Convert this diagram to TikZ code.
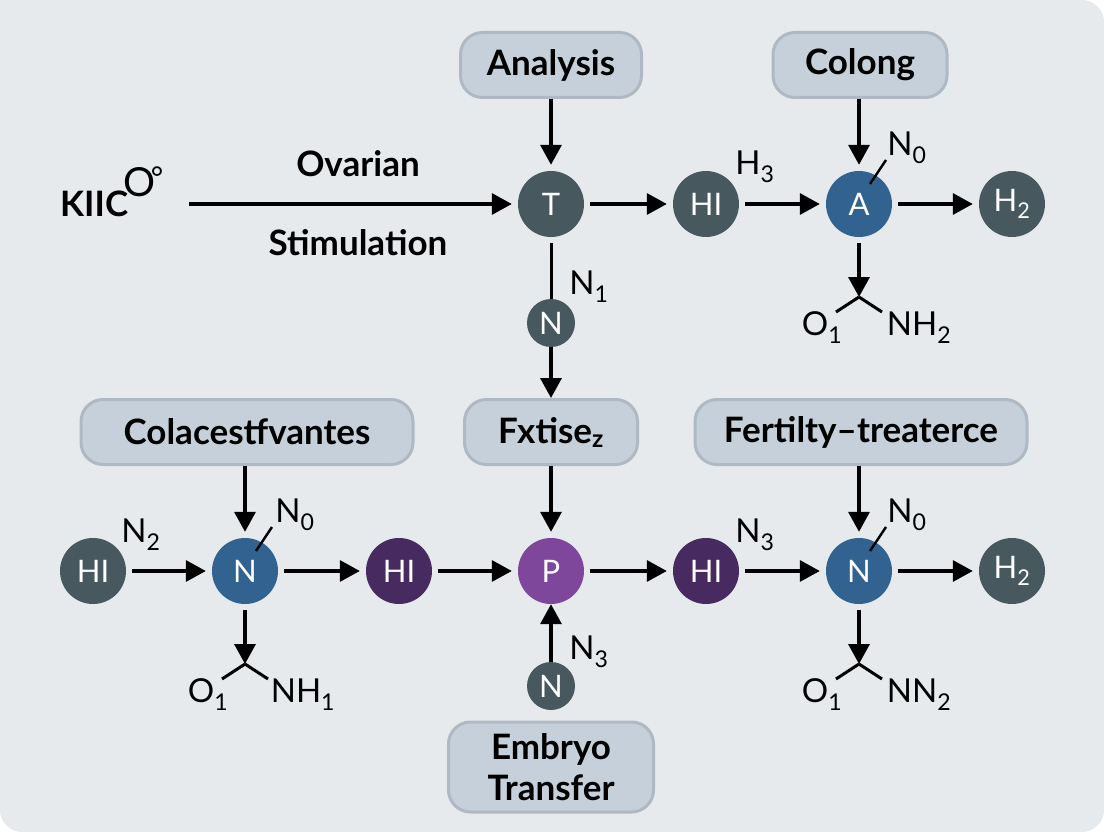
\documentclass[tikz,border=0pt]{standalone}
\usepackage{fontspec}
\setmainfont{Lato}
\usetikzlibrary{arrows.meta}
\definecolor{paper}{HTML}{E6EAED}
\definecolor{boxfill}{HTML}{C6D0DA}
\definecolor{boxline}{HTML}{AEB9C4}
\definecolor{slate}{HTML}{47595F}
\definecolor{steel}{HTML}{326290}
\definecolor{violet}{HTML}{7E479C}
\definecolor{plum}{HTML}{472A5F}
\newcommand{\low}[1]{\textsubscript{#1}}
\tikzset{
  lab/.style={font=\fontsize{33}{36}\selectfont,inner sep=0pt},
  title/.style={font=\fontsize{35}{38}\selectfont\bfseries,inner sep=0pt},
  stage/.style={draw=boxline,line width=3pt,fill=boxfill,rounded corners=22pt,inner sep=0pt,align=center,
    font=\fontsize{35}{41}\selectfont\bfseries},
  dot/.style={circle,fill=#1,text=white,minimum size=66pt,inner sep=0pt,font=\fontsize{31}{34}\selectfont},
  smalldot/.style={dot=slate,minimum size=48pt},
  link/.style={-{Triangle[length=20pt,width=21pt]},line width=3.4pt,black},
  gap/.style={link,shorten <=6pt,shorten >=6pt},
  bond/.style={line width=3pt,black}
}
\begin{document}
\begin{tikzpicture}[x=1pt,y=-1pt]
  \useasboundingbox (0,0) rectangle (1104,832);
  \fill[white] (0,0) rectangle (1104,832);
  \fill[paper,rounded corners=22pt] (0,0) rectangle (1104,832);
  \fill[paper] (0,0) rectangle (40,40);

  % stages
  \node[stage,minimum width=181pt,minimum height=65pt] (analysis) at (551,65) {\raisebox{-3pt}{Analysis}};
  \node[stage,minimum width=174pt,minimum height=65pt] (colong) at (860,65) {\raisebox{-3pt}{Colong}};
  \node[stage,minimum width=332pt,minimum height=65pt] (colac) at (247,432) {Colacestfvantes};
  \node[stage,minimum width=173pt,minimum height=65pt] (fxtise) at (551,432) {Fxtise\low{z}};
  \node[stage,minimum width=332pt,minimum height=65pt] (fert) at (861,432) {Fertilty--treaterce};
  \node[stage,minimum width=205pt,minimum height=90pt] (embryo) at (551,767) {Embryo\\Transfer};

  % upper row
  \node[title,anchor=west] (kiic) at (60,204) {KIIC};
  \node[font=\fontsize{40}{40}\selectfont,inner sep=0pt] (kiico) at (140,182) {O};
  \node[font=\fontsize{30}{30}\selectfont,inner sep=0pt] (kiicd) at (157,178) {°};
  \coordinate (start) at (189,204);
  \node[dot=slate] (t) at (551,204) {T};
  \node[dot=slate] (hi1) at (706,204) {HI};
  \node[dot=steel] (a) at (859,204) {A};
  \node[dot=slate] (h1) at (1012,204) {H\low{2}};
  \node[smalldot] (n1) at (551,323) {N};
  \node[title] (ovarian) at (358,164) {Ovarian};
  \node[title] (stim) at (358,243) {Stimulation};

  % lower row
  \node[dot=slate] (hi2) at (93,571) {HI};
  \node[dot=steel] (n2) at (245,571) {N};
  \node[dot=plum] (hi3) at (399,571) {HI};
  \node[dot=violet] (p) at (551,571) {P};
  \node[dot=plum] (hi4) at (706,571) {HI};
  \node[dot=steel] (n3) at (859,571) {N};
  \node[dot=slate] (h2) at (1012,571) {H\low{2}};
  \node[smalldot] (n4) at (551,686) {N};

  % loose labels
  \node[lab] (l1) at (755,167) {H\low{3}};
  \node[lab] (l2) at (589,287) {N\low{1}};
  \node[lab] (l3) at (141,535) {N\low{2}};
  \node[lab] (l4) at (755,535) {N\low{3}};
  \node[lab] (l5) at (589,652) {N\low{3}};

  % top right
  \node[lab] (n0a) at (907,148) {N\low{0}};
  \coordinate (tipa) at (859,297);
  \node[lab] (o1a) at (822,328) {O\low{1}};
  \node[lab] (nh1) at (919,328) {NH\low{2}};
  % bottom left
  \node[lab] (n0b) at (295,515) {N\low{0}};
  \coordinate (tipb) at (245,664);
  \node[lab] (o1b) at (208,695) {O\low{1}};
  \node[lab] (nh2) at (303,695) {NH\low{1}};
  % bottom right
  \node[lab] (n0c) at (907,515) {N\low{0}};
  \coordinate (tipc) at (859,664);
  \node[lab] (o1c) at (822,695) {O\low{1}};
  \node[lab] (nn) at (919,695) {NN\low{2}};

  \draw[link] (start) -- ([xshift=-6pt]t.west);
  \foreach \from/\to in {t/hi1,hi1/a,a/h1,hi2/n2,n2/hi3,hi3/p,p/hi4,hi4/n3,n3/h2}
    \draw[gap] (\from) -- (\to);
  \foreach \from/\to in {analysis/t,colong/a,colac/n2,fxtise/p,fert/n3}
    \draw[link,shorten >=6pt] (\from.south -| \to) -- (\to);
  \draw[link] (n1) -- (fxtise);
  \draw[link] (n4) -- (p);
  \draw[bond,shorten <=6pt] (t) -- (n1);
  \foreach \from/\to in {a/tipa,n2/tipb,n3/tipc}
    \draw[link,shorten <=6pt] (\from) -- (\to);
  \foreach \tip in {tipa,tipb,tipc} {
    \draw[bond] (\tip) -- ++(-23,15);
    \draw[bond] (\tip) -- ++(23,15);
  }
  \foreach \dotname in {a,n2,n3}
    \draw[bond,line width=2.4pt] ([shift={(11,-20)}]\dotname.center) -- ++(16,-24);
\end{tikzpicture}
\end{document}
